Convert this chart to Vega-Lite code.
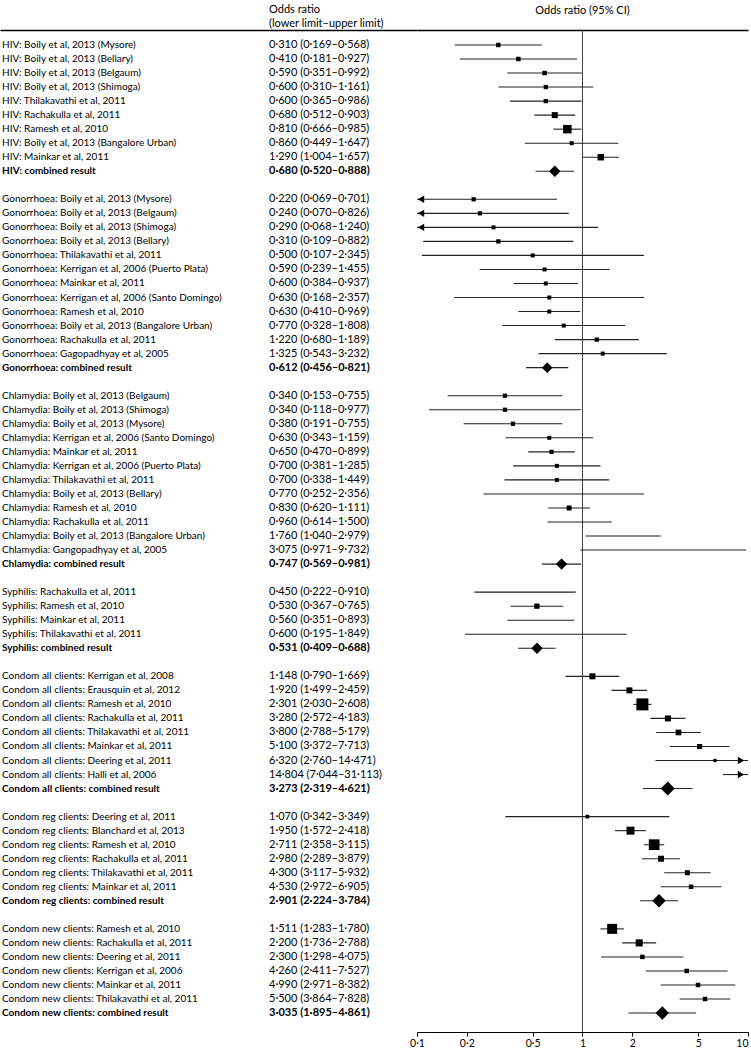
{
  "$schema": "https://vega.github.io/schema/vega-lite/v6.json",
  "padding": {"left": 0, "top": 4, "right": 0, "bottom": 0},
  "background": "white",
  "spacing": 0,
  "bounds": "flush",
  "config": {
    "view": {"stroke": null},
    "font": "Lato",
    "concat": {"spacing": 0},
    "title": {"font": "Lato", "fontSize": 11, "fontWeight": "normal", "color": "#000", "lineHeight": 14}
  },
  "datasets": {
    "rows": [
      {"id": "h1", "type": "study", "label": "HIV: Boily et al, 2013 (Mysore)", "ci": "0·310 (0·169–0·568)", "or": 0.31, "lo": 0.169, "hi": 0.568, "w": 20},
      {"id": "h2", "type": "study", "label": "HIV: Boily et al, 2013 (Bellary)", "ci": "0·410 (0·181–0·927)", "or": 0.41, "lo": 0.181, "hi": 0.927, "w": 20},
      {"id": "h3", "type": "study", "label": "HIV: Boily et al, 2013 (Belgaum)", "ci": "0·590 (0·351–0·992)", "or": 0.59, "lo": 0.351, "hi": 0.992, "w": 20},
      {"id": "h4", "type": "study", "label": "HIV: Boily et al, 2013 (Shimoga)", "ci": "0·600 (0·310–1·161)", "or": 0.6, "lo": 0.31, "hi": 1.161, "w": 18},
      {"id": "h5", "type": "study", "label": "HIV: Thilakavathi et al, 2011", "ci": "0·600 (0·365–0·986)", "or": 0.6, "lo": 0.365, "hi": 0.986, "w": 18},
      {"id": "h6", "type": "study", "label": "HIV: Rachakulla et al, 2011", "ci": "0·680 (0·512–0·903)", "or": 0.68, "lo": 0.512, "hi": 0.903, "w": 36},
      {"id": "h7", "type": "study", "label": "HIV: Ramesh et al, 2010", "ci": "0·810 (0·666–0·985)", "or": 0.81, "lo": 0.666, "hi": 0.985, "w": 72},
      {"id": "h8", "type": "study", "label": "HIV: Boily et al, 2013 (Bangalore Urban)", "ci": "0·860 (0·449–1·647)", "or": 0.86, "lo": 0.449, "hi": 1.647, "w": 16},
      {"id": "h9", "type": "study", "label": "HIV: Mainkar et al, 2011", "ci": "1·290 (1·004–1·657)", "or": 1.29, "lo": 1.004, "hi": 1.657, "w": 42},
      {"id": "hc", "type": "combined", "label": "HIV: combined result", "ci": "0·680 (0·520–0·888)", "or": 0.68, "lo": 0.52, "hi": 0.888, "w": 128},
      {"id": "gap1", "type": "gap", "label": "", "ci": ""},
      {"id": "g1", "type": "study", "label": "Gonorrhoea: Boily et al, 2013 (Mysore)", "ci": "0·220 (0·069–0·701)", "or": 0.22, "lo": 0.069, "hi": 0.701, "w": 18},
      {"id": "g2", "type": "study", "label": "Gonorrhoea: Boily et al, 2013 (Belgaum)", "ci": "0·240 (0·070–0·826)", "or": 0.24, "lo": 0.07, "hi": 0.826, "w": 18},
      {"id": "g3", "type": "study", "label": "Gonorrhoea: Boily et al, 2013 (Shimoga)", "ci": "0·290 (0·068–1·240)", "or": 0.29, "lo": 0.068, "hi": 1.24, "w": 16},
      {"id": "g4", "type": "study", "label": "Gonorrhoea: Boily et al, 2013 (Bellary)", "ci": "0·310 (0·109–0·882)", "or": 0.31, "lo": 0.109, "hi": 0.882, "w": 18},
      {"id": "g5", "type": "study", "label": "Gonorrhoea: Thilakavathi et al, 2011", "ci": "0·500 (0·107–2·345)", "or": 0.5, "lo": 0.107, "hi": 2.345, "w": 16},
      {"id": "g6", "type": "study", "label": "Gonorrhoea: Kerrigan et al, 2006 (Puerto Plata)", "ci": "0·590 (0·239–1·455)", "or": 0.59, "lo": 0.239, "hi": 1.455, "w": 16},
      {"id": "g7", "type": "study", "label": "Gonorrhoea: Mainkar et al, 2011", "ci": "0·600 (0·384–0·937)", "or": 0.6, "lo": 0.384, "hi": 0.937, "w": 16},
      {"id": "g8", "type": "study", "label": "Gonorrhoea: Kerrigan et al, 2006 (Santo Domingo)", "ci": "0·630 (0·168–2·357)", "or": 0.63, "lo": 0.168, "hi": 2.357, "w": 16},
      {"id": "g9", "type": "study", "label": "Gonorrhoea: Ramesh et al, 2010", "ci": "0·630 (0·410–0·969)", "or": 0.63, "lo": 0.41, "hi": 0.969, "w": 16},
      {"id": "g10", "type": "study", "label": "Gonorrhoea: Boily et al, 2013 (Bangalore Urban)", "ci": "0·770 (0·328–1·808)", "or": 0.77, "lo": 0.328, "hi": 1.808, "w": 16},
      {"id": "g11", "type": "study", "label": "Gonorrhoea: Rachakulla et al, 2011", "ci": "1·220 (0·680–1·189)", "or": 1.22, "lo": 0.68, "hi": 2.19, "w": 18},
      {"id": "g12", "type": "study", "label": "Gonorrhoea: Gagopadhyay et al, 2005", "ci": "1·325 (0·543–3·232)", "or": 1.325, "lo": 0.543, "hi": 3.232, "w": 16},
      {"id": "gc", "type": "combined", "label": "Gonorrhoea: combined result", "ci": "0·612 (0·456–0·821)", "or": 0.612, "lo": 0.456, "hi": 0.821, "w": 115},
      {"id": "gap2", "type": "gap", "label": "", "ci": ""},
      {"id": "c1", "type": "study", "label": "Chlamydia: Boily et al, 2013 (Belgaum)", "ci": "0·340 (0·153–0·755)", "or": 0.34, "lo": 0.153, "hi": 0.755, "w": 18},
      {"id": "c2", "type": "study", "label": "Chlamydia: Boily et al, 2013 (Shimoga)", "ci": "0·340 (0·118–0·977)", "or": 0.34, "lo": 0.118, "hi": 0.977, "w": 18},
      {"id": "c3", "type": "study", "label": "Chlamydia: Boily et al, 2013 (Mysore)", "ci": "0·380 (0·191–0·755)", "or": 0.38, "lo": 0.191, "hi": 0.755, "w": 18},
      {"id": "c4", "type": "study", "label": "Chlamydia: Kerrigan et al, 2006 (Santo Domingo)", "ci": "0·630 (0·343–1·159)", "or": 0.63, "lo": 0.343, "hi": 1.159, "w": 16},
      {"id": "c5", "type": "study", "label": "Chlamydia: Mainkar et al, 2011", "ci": "0·650 (0·470–0·899)", "or": 0.65, "lo": 0.47, "hi": 0.899, "w": 18},
      {"id": "c6", "type": "study", "label": "Chlamydia: Kerrigan et al, 2006 (Puerto Plata)", "ci": "0·700 (0·381–1·285)", "or": 0.7, "lo": 0.381, "hi": 1.285, "w": 16},
      {"id": "c7", "type": "study", "label": "Chlamydia: Thilakavathi et al, 2011", "ci": "0·700 (0·338–1·449)", "or": 0.7, "lo": 0.338, "hi": 1.449, "w": 16},
      {"id": "c8", "type": "study", "label": "Chlamydia: Boily et al, 2013 (Bellary)", "ci": "0·770 (0·252–2·356)", "or": 0.77, "lo": 0.252, "hi": 2.356, "w": 0},
      {"id": "c9", "type": "study", "label": "Chlamydia: Ramesh et al, 2010", "ci": "0·830 (0·620–1·111)", "or": 0.83, "lo": 0.62, "hi": 1.111, "w": 25},
      {"id": "c10", "type": "study", "label": "Chlamydia: Rachakulla et al, 2011", "ci": "0·960 (0·614–1·500)", "or": 0.96, "lo": 0.614, "hi": 1.5, "w": 0},
      {"id": "c11", "type": "study", "label": "Chlamydia: Boily et al, 2013 (Bangalore Urban)", "ci": "1·760 (1·040–2·979)", "or": 1.76, "lo": 1.04, "hi": 2.979, "w": 0},
      {"id": "c12", "type": "study", "label": "Chlamydia: Gangopadhyay et al, 2005", "ci": "3·075 (0·971–9·732)", "or": 3.075, "lo": 0.971, "hi": 9.732, "w": 0},
      {"id": "cc", "type": "combined", "label": "Chlamydia: combined result", "ci": "0·747 (0·569–0·981)", "or": 0.747, "lo": 0.569, "hi": 0.981, "w": 128},
      {"id": "gap3", "type": "gap", "label": "", "ci": ""},
      {"id": "s1", "type": "study", "label": "Syphilis: Rachakulla et al, 2011", "ci": "0·450 (0·222–0·910)", "or": 0.45, "lo": 0.222, "hi": 0.91, "w": 0},
      {"id": "s2", "type": "study", "label": "Syphilis: Ramesh et al, 2010", "ci": "0·530 (0·367–0·765)", "or": 0.53, "lo": 0.367, "hi": 0.765, "w": 28},
      {"id": "s3", "type": "study", "label": "Syphilis: Mainkar et al, 2011", "ci": "0·560 (0·351–0·893)", "or": 0.56, "lo": 0.351, "hi": 0.893, "w": 0},
      {"id": "s4", "type": "study", "label": "Syphilis: Thilakavathi et al, 2011", "ci": "0·600 (0·195–1·849)", "or": 0.6, "lo": 0.195, "hi": 1.849, "w": 0},
      {"id": "sc", "type": "combined", "label": "Syphilis: combined result", "ci": "0·531 (0·409–0·688)", "or": 0.531, "lo": 0.409, "hi": 0.688, "w": 128},
      {"id": "gap4", "type": "gap", "label": "", "ci": ""},
      {"id": "a1", "type": "study", "label": "Condom all clients: Kerrigan et al, 2008", "ci": "1·148 (0·790–1·669)", "or": 1.148, "lo": 0.79, "hi": 1.669, "w": 36},
      {"id": "a2", "type": "study", "label": "Condom all clients: Erausquin et al, 2012", "ci": "1·920 (1·499–2·459)", "or": 1.92, "lo": 1.499, "hi": 2.459, "w": 36},
      {"id": "a3", "type": "study", "label": "Condom all clients: Ramesh et al, 2010", "ci": "2·301 (2·030–2·608)", "or": 2.301, "lo": 2.03, "hi": 2.608, "w": 144},
      {"id": "a4", "type": "study", "label": "Condom all clients: Rachakulla et al, 2011", "ci": "3·280 (2·572–4·183)", "or": 3.28, "lo": 2.572, "hi": 4.183, "w": 36},
      {"id": "a5", "type": "study", "label": "Condom all clients: Thilakavathi et al, 2011", "ci": "3·800 (2·788–5·179)", "or": 3.8, "lo": 2.788, "hi": 5.179, "w": 32},
      {"id": "a6", "type": "study", "label": "Condom all clients: Mainkar et al, 2011", "ci": "5·100 (3·372–7·713)", "or": 5.1, "lo": 3.372, "hi": 7.713, "w": 25},
      {"id": "a7", "type": "study", "label": "Condom all clients: Deering et al, 2011", "ci": "6·320 (2·760–14·471)", "or": 6.32, "lo": 2.76, "hi": 14.471, "w": 11},
      {"id": "a8", "type": "study", "label": "Condom all clients: Halli et al, 2006", "ci": "14·804 (7·044–31·113)", "or": 14.804, "lo": 7.044, "hi": 31.113, "w": 0},
      {"id": "ac", "type": "combined", "label": "Condom all clients: combined result", "ci": "3·273 (2·319–4·621)", "or": 3.273, "lo": 2.319, "hi": 4.621, "w": 196},
      {"id": "gap5", "type": "gap", "label": "", "ci": ""},
      {"id": "r1", "type": "study", "label": "Condom reg clients: Deering et al, 2011", "ci": "1·070 (0·342–3·349)", "or": 1.07, "lo": 0.342, "hi": 3.349, "w": 14},
      {"id": "r2", "type": "study", "label": "Condom reg clients: Blanchard et al, 2013", "ci": "1·950 (1·572–2·418)", "or": 1.95, "lo": 1.572, "hi": 2.418, "w": 64},
      {"id": "r3", "type": "study", "label": "Condom reg clients: Ramesh et al, 2010", "ci": "2·711 (2·358–3·115)", "or": 2.711, "lo": 2.358, "hi": 3.115, "w": 115},
      {"id": "r4", "type": "study", "label": "Condom reg clients: Rachakulla et al, 2011", "ci": "2·980 (2·289–3·879)", "or": 2.98, "lo": 2.289, "hi": 3.879, "w": 36},
      {"id": "r5", "type": "study", "label": "Condom reg clients: Thilakavathi et al, 2011", "ci": "4·300 (3·117–5·932)", "or": 4.3, "lo": 3.117, "hi": 5.932, "w": 25},
      {"id": "r6", "type": "study", "label": "Condom reg clients: Mainkar et al, 2011", "ci": "4·530 (2·972–6·905)", "or": 4.53, "lo": 2.972, "hi": 6.905, "w": 20},
      {"id": "rc", "type": "combined", "label": "Condom reg clients: combined result", "ci": "2·901 (2·224–3·784)", "or": 2.901, "lo": 2.224, "hi": 3.784, "w": 180},
      {"id": "gap6", "type": "gap", "label": "", "ci": ""},
      {"id": "n1", "type": "study", "label": "Condom new clients: Ramesh et al, 2010", "ci": "1·511 (1·283–1·780)", "or": 1.511, "lo": 1.283, "hi": 1.78, "w": 100},
      {"id": "n2", "type": "study", "label": "Condom new clients: Rachakulla et al, 2011", "ci": "2·200 (1·736–2·788)", "or": 2.2, "lo": 1.736, "hi": 2.788, "w": 50},
      {"id": "n3", "type": "study", "label": "Condom new clients: Deering et al, 2011", "ci": "2·300 (1·298–4·075)", "or": 2.3, "lo": 1.298, "hi": 4.075, "w": 20},
      {"id": "n4", "type": "study", "label": "Condom new clients: Kerrigan et al, 2006", "ci": "4·260 (2·411–7·527)", "or": 4.26, "lo": 2.411, "hi": 7.527, "w": 20},
      {"id": "n5", "type": "study", "label": "Condom new clients: Mainkar et al, 2011", "ci": "4·990 (2·971–8·382)", "or": 4.99, "lo": 2.971, "hi": 8.382, "w": 20},
      {"id": "n6", "type": "study", "label": "Condom new clients: Thilakavathi et al, 2011", "ci": "5·500 (3·864–7·828)", "or": 5.5, "lo": 3.864, "hi": 7.828, "w": 20},
      {"id": "nc", "type": "combined", "label": "Condom new clients: combined result", "ci": "3·035 (1·895–4·861)", "or": 3.035, "lo": 1.895, "hi": 4.861, "w": 180}
    ]
  },
  "data": {"name": "rows"},
  "hconcat": [
    {
      "width": 269,
      "height": 1002,
      "encoding": {
        "y": {"field": "id", "type": "nominal", "sort": null, "axis": null, "scale": {"type": "band", "paddingInner": 0, "paddingOuter": 0.709, "align": 0.4}},
        "x": {"datum": 0, "type": "quantitative", "scale": {"domain": [0, 1]}, "axis": {"orient": "top", "domain": true, "domainColor": "#000", "domainWidth": 1.3, "ticks": false, "labels": false, "grid": false, "title": null}}
      },
      "layer": [
        {
          "mark": {"type": "text", "align": "left", "baseline": "middle", "fontSize": 10, "dx": 2, "color": "#000", "font": "Lato"},
          "encoding": {"text": {"condition": {"test": "datum.type == 'combined'", "value": ""}, "field": "label"}}
        },
        {
          "transform": [{"filter": "datum.type == 'combined'"}],
          "mark": {"type": "text", "align": "left", "baseline": "middle", "fontSize": 10, "dx": 2, "color": "#000", "font": "Lato", "fontWeight": "bold"},
          "encoding": {"text": {"field": "label"}}
        }
      ]
    },
    {
      "width": 148,
      "height": 1002,
      "title": {"text": ["Odds ratio", "(lower limit–upper limit)"], "anchor": "start", "offset": 1},
      "encoding": {
        "y": {"field": "id", "type": "nominal", "sort": null, "axis": null, "scale": {"type": "band", "paddingInner": 0, "paddingOuter": 0.709, "align": 0.4}},
        "x": {"datum": 0, "type": "quantitative", "scale": {"domain": [0, 1]}, "axis": {"orient": "top", "domain": true, "domainColor": "#000", "domainWidth": 1.3, "ticks": false, "labels": false, "grid": false, "title": null}}
      },
      "layer": [
        {
          "mark": {"type": "text", "align": "left", "baseline": "middle", "fontSize": 11, "color": "#000", "font": "Lato"},
          "encoding": {"text": {"condition": {"test": "datum.type == 'combined'", "value": ""}, "field": "ci"}}
        },
        {
          "transform": [{"filter": "datum.type == 'combined'"}],
          "mark": {"type": "text", "align": "left", "baseline": "middle", "fontSize": 11, "color": "#000", "font": "Lato", "fontWeight": "bold"},
          "encoding": {"text": {"field": "ci"}}
        }
      ]
    },
    {
      "width": 331,
      "height": 1002,
      "title": {"text": "Odds ratio (95% CI)", "anchor": "middle", "offset": 14},
      "resolve": {"axis": {"x": "independent"}},
      "layer": [
        {
          "mark": {"type": "text", "fontSize": 1},
          "encoding": {
            "y": {"field": "id", "type": "nominal", "sort": null, "axis": null, "scale": {"type": "band", "paddingInner": 0, "paddingOuter": 0.709, "align": 0.4}},
            "text": {"value": ""}
          }
        },
        {
          "data": {"values": [{}]},
          "mark": {"type": "rule", "color": "#444", "strokeWidth": 1},
          "encoding": {
            "x": {"datum": 1, "type": "quantitative", "scale": {"type": "log", "domain": [0.1, 10], "clamp": true, "nice": false}, "axis": {"orient": "top", "domain": true, "domainColor": "#000", "domainWidth": 1.3, "ticks": false, "labels": false, "grid": false, "title": null}}
          }
        },
        {
          "transform": [{"filter": "isValid(datum.lo)"}],
          "mark": {"type": "rule", "color": "#222", "strokeWidth": 1.1},
          "encoding": {
            "y": {"field": "id", "type": "nominal", "sort": null, "axis": null},
            "x": {"field": "lo", "type": "quantitative", "scale": {"type": "log", "domain": [0.1, 10], "clamp": true, "nice": false}, "axis": {"orient": "bottom", "values": [0.1, 0.2, 0.5, 1, 2, 5, 10], "labelExpr": "replace(format(datum.value, '~g'), '.', '·')", "labelAlign": {"condition": {"test": "datum.value == 10", "value": "right"}, "value": "center"}, "title": null, "grid": false, "tickSize": 4, "tickColor": "#000", "domainColor": "#000", "domainWidth": 1.2, "labelFontSize": 10.5, "labelColor": "#000", "labelFont": "Lato", "labelPadding": 2, "labelFlush": false}},
            "x2": {"field": "hi"}
          }
        },
        {
          "transform": [{"filter": "datum.type == 'study' && datum.w > 0"}],
          "mark": {"type": "point", "shape": "square", "filled": true, "color": "#000", "opacity": 1},
          "encoding": {
            "y": {"field": "id", "type": "nominal", "sort": null, "axis": null},
            "x": {"field": "or", "type": "quantitative", "axis": null},
            "size": {"field": "w", "type": "quantitative", "scale": {"type": "linear", "domain": [0, 150], "range": [0, 150]}, "legend": null}
          }
        },
        {
          "transform": [{"filter": "datum.type == 'combined'"}],
          "mark": {"type": "point", "shape": "diamond", "filled": true, "color": "#000", "opacity": 1},
          "encoding": {
            "y": {"field": "id", "type": "nominal", "sort": null, "axis": null},
            "x": {"field": "or", "type": "quantitative", "axis": null},
            "size": {"field": "w", "type": "quantitative", "scale": {"type": "linear", "domain": [0, 150], "range": [0, 150]}, "legend": null}
          }
        },
        {
          "transform": [{"filter": "isValid(datum.lo) && datum.lo < 0.1"}],
          "mark": {"type": "point", "shape": "triangle-left", "filled": true, "color": "#000", "opacity": 1, "size": 55, "xOffset": 4},
          "encoding": {
            "y": {"field": "id", "type": "nominal", "sort": null, "axis": null},
            "x": {"field": "lo", "type": "quantitative", "axis": null}
          }
        },
        {
          "transform": [{"filter": "isValid(datum.hi) && datum.hi > 10"}],
          "mark": {"type": "point", "shape": "triangle-right", "filled": true, "color": "#000", "opacity": 1, "size": 55, "xOffset": -7},
          "encoding": {
            "y": {"field": "id", "type": "nominal", "sort": null, "axis": null},
            "x": {"field": "hi", "type": "quantitative", "axis": null}
          }
        }
      ]
    }
  ]
}
